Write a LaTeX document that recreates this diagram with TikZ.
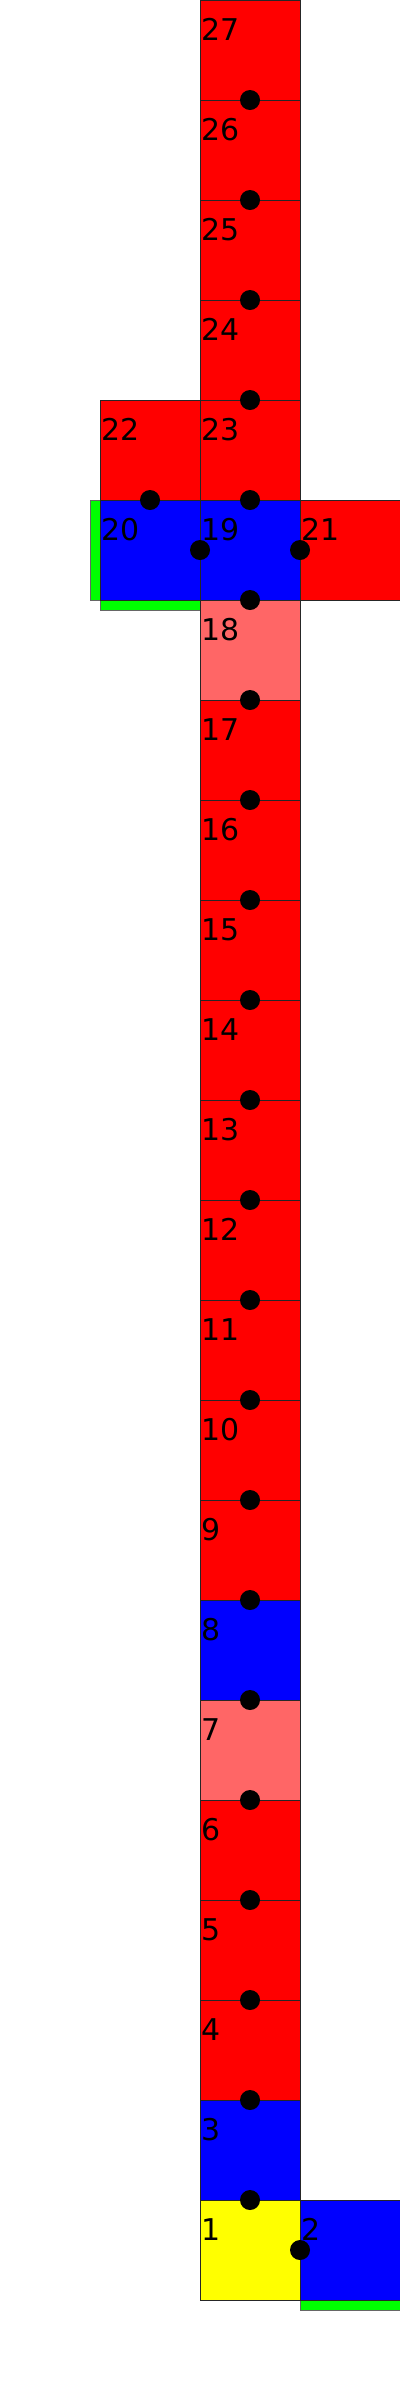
\documentclass[tikz,border=0pt]{standalone}
\usepackage{fontspec}
\setmainfont{DejaVu Sans}
\usetikzlibrary{calc}
\definecolor{lred}{HTML}{FF6666}
\definecolor{cred}{HTML}{FF0000}
\definecolor{cblue}{HTML}{0000FF}
\definecolor{cyellow}{HTML}{FFFF00}
\definecolor{cgreen}{HTML}{00FF00}
\begin{document}
\begin{tikzpicture}[x=0.025cm,y=-0.025cm,
  cell/.style={draw=black!85, line width=0.7pt, minimum size=2.5cm, inner sep=0pt, outer sep=0pt, anchor=north west},
  strip/.style={draw=black!60, line width=0.7pt, fill=cgreen},
  num/.style={anchor=base west, inner sep=0pt, font=\fontsize{21.3}{25}\selectfont},
  dotmark/.style={fill=black}]
\useasboundingbox (0,0) rectangle (400,2400);
% green strips
\draw[strip] (90,500) rectangle (100,600);
\draw[strip] (100,600) rectangle (200,610);
\draw[strip] (300,2300) rectangle (400,2310);
% cells
\foreach \n/\x/\y/\c in {27/200/0/cred, 26/200/100/cred, 25/200/200/cred, 24/200/300/cred,
  23/200/400/cred, 22/100/400/cred, 19/200/500/cblue, 20/100/500/cblue, 21/300/500/cred,
  18/200/600/lred, 17/200/700/cred, 16/200/800/cred, 15/200/900/cred, 14/200/1000/cred,
  13/200/1100/cred, 12/200/1200/cred, 11/200/1300/cred, 10/200/1400/cred, 9/200/1500/cred,
  8/200/1600/cblue, 7/200/1700/lred, 6/200/1800/cred, 5/200/1900/cred, 4/200/2000/cred,
  3/200/2100/cblue, 1/200/2200/cyellow, 2/300/2200/cblue}
{
  \node[cell, fill=\c] (c\n) at (\x,\y) {};
  \node[num] (t\n) at ([xshift=0.02cm,yshift=-1cm]c\n.north west) {\n};
}
% joints
\foreach \a/\b in {27/26, 26/25, 25/24, 24/23, 23/19, 22/20, 20/19, 19/21, 19/18,
  18/17, 17/16, 16/15, 15/14, 14/13, 13/12, 12/11, 11/10, 10/9, 9/8, 8/7, 7/6,
  6/5, 5/4, 4/3, 3/1, 1/2}
{
  \fill[dotmark] ($(c\a)!0.5!(c\b)$) circle (10);
}
\end{tikzpicture}
\end{document}
